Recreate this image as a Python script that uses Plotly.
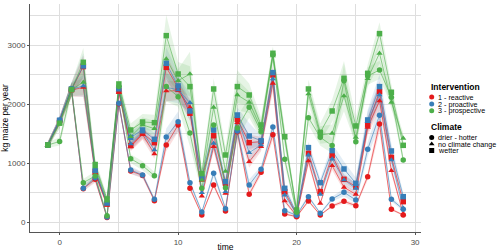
import plotly.graph_objects as go

time = list(range(-1, 30))
interventions = ["1 - reactive", "2 - proactive", "3 - prospective"]
climates = ["drier - hotter", "no climate change", "wetter"]
colors = ["#E41A1C", "#377EB8", "#4DAF4A"]
rgb = [(228, 26, 28), (55, 126, 184), (77, 175, 74)]
symbols = ["circle", "triangle-up", "square"]

# values (kg maize per year), t = -1 .. 29
reactive_drier = [1310, 1720, 2250, 570, 730, 80, 2010, 870, 795, 365, 1310, 1650, 576, 124, 633, 192,
                  1537, 475, 848, 1486, 141, 96, 362, 124, 277, 356, 282, 774, 1667, 220, 124]
reactive_nochange = [1310, 1720, 2240, 2288, 830, 290, 2200, 1283, 1490, 1158, 2226, 2230, 1949, 446, 1283, 492,
                     1689, 1028, 1283, 2356, 362, 110, 1040, 322, 960, 593, 475, 1610, 2057, 876, 140]
reactive_wetter = [1310, 1720, 2250, 2640, 860, 310, 2230, 1300, 1508, 1350, 2627, 2280, 1848, 735, 1469, 661,
                   1746, 1350, 1367, 2497, 520, 130, 1170, 520, 1130, 729, 605, 1650, 2215, 1100, 350]
proactive_drier = [1310, 1730, 2260, 576, 757, 90, 2017, 887, 802, 390, 1446, 1706, 672, 175, 830, 232,
                   1548, 633, 898, 1616, 198, 120, 435, 153, 395, 508, 379, 1237, 1814, 390, 220]
proactive_nochange = [1310, 1730, 2255, 2311, 870, 310, 2240, 1328, 1530, 1226, 2290, 2243, 2028, 503, 1339, 520,
                      1790, 1181, 1311, 2430, 463, 140, 1141, 475, 1073, 720, 576, 1706, 2158, 1057, 237]
proactive_wetter = [1310, 1730, 2260, 2650, 880, 330, 2271, 1440, 1565, 1407, 2695, 2311, 1887, 763, 1565, 689,
                    1819, 1463, 1384, 2537, 576, 153, 1266, 672, 1215, 904, 661, 1735, 2300, 1209, 435]
prospective_drier = [1310, 1370, 2250, 672, 785, 110, 2300, 1079, 960, 791, 2300, 2130, 1514, 576, 1650, 588,
                     1600, 1949, 1537, 2840, 1068, 170, 1774, 1440, 1300, 2400, 1367, 2480, 2582, 2119, 1057]
prospective_nochange = [1310, 1680, 2250, 2373, 940, 360, 2311, 1452, 1650, 1588, 2769, 2401, 2514, 717, 1949, 864,
                        2158, 2034, 1593, 2819, 1430, 190, 2175, 1480, 1508, 2141, 1441, 2435, 2865, 2034, 1424]
prospective_wetter = [1310, 1680, 2250, 2712, 980, 396, 2345, 1565, 1700, 1689, 3164, 2514, 2300, 825, 2260, 1141,
                      2300, 2158, 1650, 2865, 1452, 209, 2260, 1525, 1887, 2441, 1633, 2525, 3198, 2204, 1305]

# relative half-width of the shaded band, per intervention
reactive_spread = [0.04, 0.04, 0.05, 0.07, 0.08, 0.10, 0.03, 0.06, 0.06, 0.07, 0.08, 0.07, 0.07, 0.10, 0.07, 0.10,
                   0.06, 0.10, 0.06, 0.06, 0.10, 0.20, 0.07, 0.08, 0.08, 0.10, 0.10, 0.08, 0.08, 0.08, 0.10]
proactive_spread = [0.04, 0.04, 0.05, 0.08, 0.08, 0.10, 0.03, 0.07, 0.06, 0.08, 0.10, 0.10, 0.08, 0.12, 0.08, 0.12,
                    0.07, 0.15, 0.06, 0.06, 0.12, 0.25, 0.08, 0.10, 0.10, 0.14, 0.15, 0.10, 0.09, 0.10, 0.15]
prospective_spread = [0.04, 0.05, 0.05, 0.09, 0.10, 0.15, 0.04, 0.07, 0.08, 0.08, 0.11, 0.08, 0.15, 0.12, 0.08, 0.12,
                      0.12, 0.09, 0.08, 0.04, 0.10, 0.30, 0.07, 0.10, 0.10, 0.12, 0.09, 0.06, 0.06, 0.06, 0.06]

values = [
    [reactive_drier, reactive_nochange, reactive_wetter],
    [proactive_drier, proactive_nochange, proactive_wetter],
    [prospective_drier, prospective_nochange, prospective_wetter],
]
spreads = [reactive_spread, proactive_spread, prospective_spread]

FONT = "Liberation Sans, Arial, sans-serif"
fig = go.Figure()

# ribbons
for i in range(3):
    r, g, b = rgb[i]
    for c in range(3):
        v = values[i][c]
        up = [val * (1 + s) for val, s in zip(v, spreads[i])]
        lo = [val * (1 - s) for val, s in zip(v, spreads[i])]
        fig.add_trace(go.Scatter(
            x=time + time[::-1], y=up + lo[::-1], fill="toself",
            fillcolor=f"rgba({r},{g},{b},0.14)", line=dict(width=0),
            mode="lines", hoverinfo="skip", showlegend=False))
# lines
for i in range(3):
    r, g, b = rgb[i]
    for c in range(3):
        fig.add_trace(go.Scatter(
            x=time, y=values[i][c], mode="lines",
            line=dict(color=f"rgba({r},{g},{b},0.75)", width=0.8),
            showlegend=False, hoverinfo="skip"))
# points
for i in range(3):
    for c in range(3):
        fig.add_trace(go.Scatter(
            x=time, y=values[i][c], mode="markers",
            marker=dict(color=colors[i], symbol=symbols[c], size=5.5, line=dict(width=0)),
            name=f"{interventions[i]}, {climates[c]}", showlegend=False))

# custom legend drawn on a pixel-scaled helper axis
leg_x_marker = 431.7
leg_x_text = 435.5
int_title_y = 87
int_rows = [97, 104, 110.7]
clim_title_y = 127
clim_rows = [137.5, 144, 150.5]

fig.add_trace(go.Scatter(
    x=[leg_x_marker] * 3, y=int_rows, mode="markers", xaxis="x2", yaxis="y2",
    marker=dict(color=colors, symbol="circle", size=5), showlegend=False, hoverinfo="skip"))
fig.add_trace(go.Scatter(
    x=[leg_x_marker] * 3, y=clim_rows, mode="markers", xaxis="x2", yaxis="y2",
    marker=dict(color="black", symbol=symbols, size=5), showlegend=False, hoverinfo="skip"))

annotations = []
annotations.append(dict(x=428.5, y=int_title_y, xref="x2", yref="y2", text="<b>Intervention</b>",
                        showarrow=False, xanchor="left", yanchor="middle",
                        font=dict(size=8.5, color="black", family=FONT)))
for lab, yy in zip(interventions, int_rows):
    annotations.append(dict(x=leg_x_text, y=yy, xref="x2", yref="y2", text=lab, showarrow=False,
                            xanchor="left", yanchor="middle", font=dict(size=7.2, color="black", family=FONT)))
annotations.append(dict(x=428.5, y=clim_title_y, xref="x2", yref="y2", text="<b>Climate</b>",
                        showarrow=False, xanchor="left", yanchor="middle",
                        font=dict(size=8.5, color="black", family=FONT)))
for lab, yy in zip(climates, clim_rows):
    annotations.append(dict(x=leg_x_text, y=yy, xref="x2", yref="y2", text=lab, showarrow=False,
                            xanchor="left", yanchor="middle", font=dict(size=7.2, color="black", family=FONT)))

W, H = 500, 252
ml, mr, mt, mb = 30, 0, 4, 20
main_right = 421
dom_end = (main_right - ml) / (W - ml - mr)

fig.update_layout(
    width=W, height=H,
    margin=dict(l=ml, r=mr, t=mt, b=mb, autoexpand=False),
    paper_bgcolor="white", plot_bgcolor="white",
    showlegend=False,
    font=dict(family=FONT, color="black"),
    annotations=annotations,
    xaxis=dict(domain=[0, dom_end], range=[-2.5, 30.5], tickvals=[0, 10, 20, 30],
               automargin=False,
               showgrid=True, gridcolor="#DEDEDE", gridwidth=0.8,
               minor=dict(tickvals=[5, 15, 25], showgrid=True, gridcolor="#DEDEDE", gridwidth=0.8),
               zeroline=False, showline=True, linecolor="#555555", linewidth=1,
               ticks="outside", ticklen=2, tickcolor="#555555",
               tickfont=dict(size=8, color="#4D4D4D"),
               title=dict(text="time", font=dict(size=8.5), standoff=1)),
    yaxis=dict(range=[-164, 3700], tickvals=[0, 1000, 2000, 3000],
               automargin=False,
               showgrid=True, gridcolor="#DEDEDE", gridwidth=0.8,
               minor=dict(tickvals=[500, 1500, 2500, 3500], showgrid=True, gridcolor="#DEDEDE", gridwidth=0.8),
               zeroline=False, showline=True, linecolor="#555555", linewidth=1,
               ticks="outside", ticklen=2, tickcolor="#555555",
               tickfont=dict(size=8, color="#4D4D4D"),
               title=dict(text="kg maize per year", font=dict(size=8.5), standoff=2)),
    xaxis2=dict(domain=[dom_end + 0.005, 1], range=[ml + (dom_end + 0.005) * (W - ml - mr), W],
                visible=False, fixedrange=True, automargin=False),
    yaxis2=dict(domain=[0, 1], range=[H - mb, mt], anchor="x2", visible=False, fixedrange=True,
                automargin=False),
)

fig.write_html("out.html", config={"displayModeBar": False},
               post_script="document.body.style.margin='0px';document.body.style.overflow='hidden';")
